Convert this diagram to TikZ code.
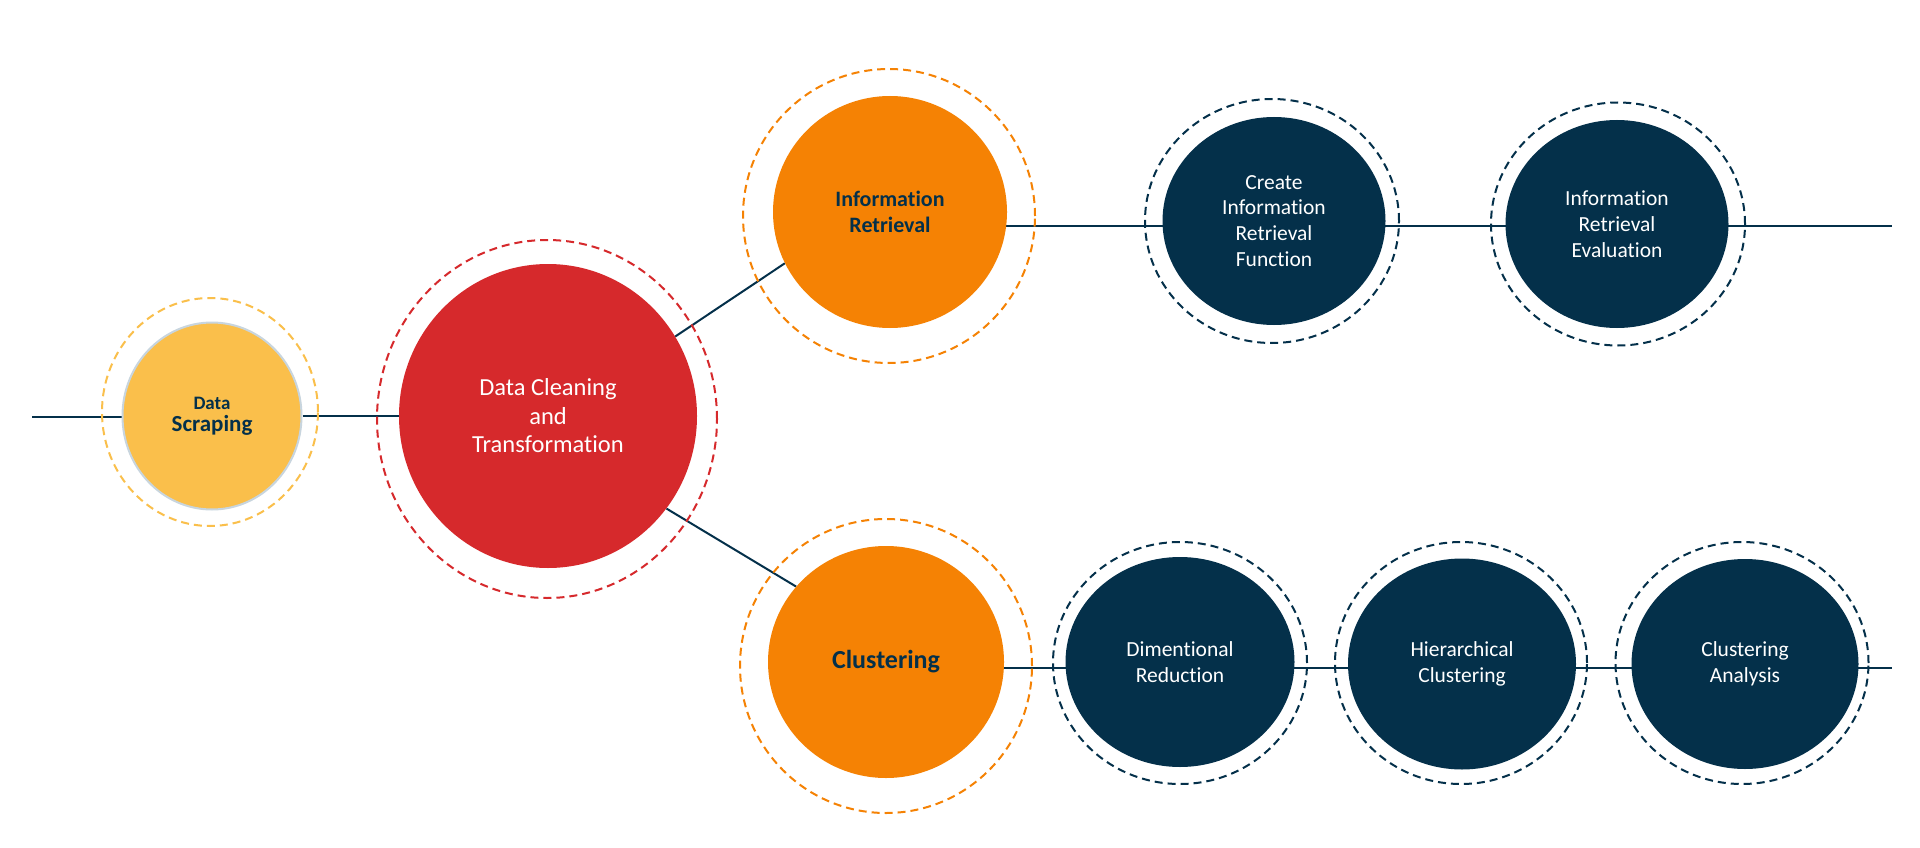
\documentclass[tikz,border=0pt]{standalone}
\usepackage{fontspec}
\setmainfont{Carlito}[Ligatures={NoCommon}]
\usetikzlibrary{shapes.geometric,backgrounds}

\definecolor{navy}{HTML}{04304A}
\definecolor{sun}{HTML}{FABF4B}
\definecolor{crimson}{HTML}{D6292C}
\definecolor{tangerine}{HTML}{F58204}
\definecolor{mist}{HTML}{C8D5DE}

\begin{document}
\begin{tikzpicture}[x=1pt,y=-1pt,
  stage/.style={ellipse, inner sep=0pt, align=center},
  ring/.style={ellipse, inner sep=0pt, line width=2pt, dash pattern=on 8pt off 5pt},
  link/.style={draw=navy, line width=2pt},
  darktext/.style={font=\fontsize{21.5}{25.8}\selectfont, text=white},
  boldtext/.style={font=\bfseries\fontsize{22}{26}\selectfont, text=navy}]
\useasboundingbox (0,0) rectangle (1920,848);

% entry stage
\node[stage, fill=sun, draw=mist, line width=2pt, minimum width=179pt, minimum height=187pt,
      text=navy, font=\bfseries] (ds) at (212,416)
  {\fontsize{19}{21}\selectfont Data\\[5pt]\fontsize{23}{25}\selectfont Scraping};
\node[ring, draw=sun, minimum width=216pt, minimum height=228pt] (dsring) at (210,412) {};

% central stage
\node[stage, fill=crimson, minimum width=298pt, minimum height=304pt,
      text=white, font=\fontsize{24.5}{28.5}\selectfont] (dct) at (548,416)
  {Data Cleaning\\and\\Transformation};
\node[ring, draw=crimson, minimum width=340pt, minimum height=358pt] (dctring) at (547,419) {};

% upper branch
\node[stage, fill=tangerine, minimum width=234pt, minimum height=232pt, boldtext] (ir) at (890,212)
  {Information\\Retrieval};
\node[ring, draw=tangerine, minimum width=292pt, minimum height=294pt] (irring) at (889,216) {};

\node[stage, fill=navy, minimum width=223pt, minimum height=208pt, darktext] (cirf) at (1274,221)
  {Create\\Information\\Retrieval\\Function};
\node[ring, draw=navy, minimum width=254pt, minimum height=244pt] (cirfring) at (1272,221) {};

\node[stage, fill=navy, minimum width=223pt, minimum height=208pt, darktext] (ire) at (1617,224)
  {Information\\Retrieval\\Evaluation};
\node[ring, draw=navy, minimum width=254pt, minimum height=243pt] (irering) at (1618,224) {};

% lower branch
\node[stage, fill=tangerine, minimum width=236pt, minimum height=232pt,
      font=\bfseries\fontsize{26}{30}\selectfont, text=navy] (cl) at (886,662)
  {Clustering};
\node[ring, draw=tangerine, minimum width=292pt, minimum height=294pt] (clring) at (886,666) {};

\node[stage, fill=navy, minimum width=229pt, minimum height=210pt,
      darktext, font=\fontsize{21.5}{26.5}\selectfont] (dr) at (1180,662)
  {Dimentional\\Reduction};
\node[ring, draw=navy, minimum width=254pt, minimum height=242pt] (drring) at (1180,663) {};

\node[stage, fill=navy, minimum width=228pt, minimum height=211pt,
      darktext, font=\fontsize{21.5}{26.5}\selectfont] (hc) at (1462,664)
  {Hierarchical\\Clustering};
\node[ring, draw=navy, minimum width=252pt, minimum height=242pt] (hcring) at (1461,663) {};

\node[stage, fill=navy, minimum width=227pt, minimum height=210pt,
      darktext, font=\fontsize{21.5}{26.5}\selectfont] (ca) at (1745,664)
  {Clustering\\Analysis};
\node[ring, draw=navy, minimum width=253pt, minimum height=242pt] (caring) at (1742,663) {};

% free ends and row heights of the connectors
\coordinate (inlet) at (32,417);
\coordinate (irrow) at (0,226);
\coordinate (clrow) at (0,668);
\coordinate (irend) at (1892,226);
\coordinate (clend) at (1892,668);

\begin{pgfonlayer}{background}
  \fill[white] (0,0) rectangle (1920,848);
  \draw[link] (inlet) -- (ds.center |- inlet);
  \draw[link] (ds) -- (dct);
  \draw[link] (dct.32) -- (ir.206);
  \draw[link] (dct.-38) -- (cl.140);
  \draw[link] (ir.center |- irrow) -- (cirf.center |- irrow)
              -- (ire.center |- irrow) -- (irend);
  \draw[link] (cl.center |- clrow) -- (dr.center |- clrow)
              -- (hc.center |- clrow) -- (ca.center |- clrow) -- (clend);
\end{pgfonlayer}
\end{tikzpicture}
\end{document}
